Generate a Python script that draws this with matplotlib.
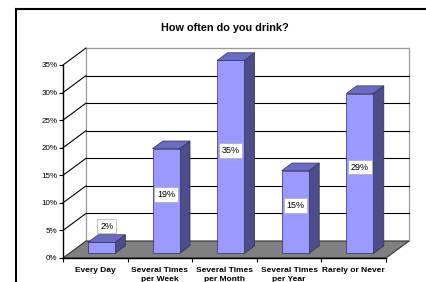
import matplotlib.pyplot as plt
from matplotlib.patches import Polygon
from matplotlib.lines import Line2D
from matplotlib.ticker import FixedLocator, NullFormatter

plt.rcParams['font.family'] = ['Liberation Sans', 'DejaVu Sans']

# data
categories = ['Every Day', 'Several Times\nper Week', 'Several Times\nper Month',
              'Several Times\nper Year', 'Rarely or Never']
values = [2, 19, 35, 15, 29]
yticks = [0, 5, 10, 15, 20, 25, 30, 35]

# 3d look: depth offset in data units
DX, DY = 0.356, 3.08
f0, f1 = 0.27, 0.72     # bar front / back depth fraction
w = 0.42
front_c = '#9999ff'
side_c = '#4d4d8c'
top_c = '#6b6bc4'
edge_c = '#2e2e5c'

fig = plt.figure(figsize=(4.26, 2.82), dpi=100)
ax = fig.add_axes([63 / 426, 24 / 282, 323 / 426, 193 / 282])
ax.set_xlim(0, 5)
ax.set_ylim(0, 35)
ax.patch.set_visible(False)
ax.spines['top'].set_visible(False)
ax.spines['right'].set_visible(False)
for s in ('left', 'bottom'):
    ax.spines[s].set_linewidth(1.0)
    ax.spines[s].set_zorder(6)

top = 35
# back wall
ax.add_patch(Polygon([(DX, DY), (5 + DX, DY), (5 + DX, top + DY), (DX, top + DY)],
                     closed=True, facecolor='white', edgecolor='#999999', lw=0.9,
                     clip_on=False, zorder=1))
for v in yticks[1:]:
    col = '#999999' if v == top else 'black'
    ax.plot([DX, 5 + DX], [v + DY, v + DY], color=col, lw=0.8, clip_on=False, zorder=2)
    ax.plot([0, DX], [v, v + DY], color='black', lw=0.8, clip_on=False, zorder=2)

# floor
ax.add_patch(Polygon([(0, 0), (5, 0), (5 + DX, DY), (DX, DY)], closed=True,
                     facecolor='#808080', edgecolor='#333333', lw=0.8,
                     clip_on=False, zorder=3))

# bars
s = f1 - f0
for i, v in enumerate(values):
    x0 = i + 0.5 - w / 2 + f0 * DX
    x1 = x0 + w
    y0 = f0 * DY
    y1 = v + f0 * DY
    ax.add_patch(Polygon([(x1, y0), (x1 + s * DX, y0 + s * DY), (x1 + s * DX, y1 + s * DY), (x1, y1)],
                         closed=True, facecolor=side_c, edgecolor=edge_c, lw=0.5,
                         clip_on=False, zorder=4))
    ax.add_patch(Polygon([(x0, y1), (x1, y1), (x1 + s * DX, y1 + s * DY), (x0 + s * DX, y1 + s * DY)],
                         closed=True, facecolor=top_c, edgecolor=edge_c, lw=0.5,
                         clip_on=False, zorder=4))
    ax.add_patch(Polygon([(x0, y0), (x1, y0), (x1, y1), (x0, y1)],
                         closed=True, facecolor=front_c, edgecolor=edge_c, lw=0.5,
                         clip_on=False, zorder=5))
    if v < 5:
        lx, ly = i + 0.5 + (f0 + f1) / 2 * DX, v + 3.8
    else:
        lx, ly = i + 0.5 + f0 * DX, v / 2 + 2
    ax.text(lx, ly, f'{v}%', ha='center', va='center', fontsize=6.5, zorder=7,
            bbox=dict(boxstyle='square,pad=0.3', facecolor='white', edgecolor='#aaaaaa', lw=0.5))

# axes ticks
ax.set_yticks(yticks)
ax.set_yticklabels([f'{v}%' for v in yticks], fontsize=5.8)
ax.tick_params(axis='y', length=3, width=0.8, pad=1, color='black')
ax.xaxis.set_major_locator(FixedLocator([0, 1, 2, 3, 4, 5]))
ax.xaxis.set_major_formatter(NullFormatter())
ax.xaxis.set_minor_locator(FixedLocator([i + 0.5 for i in range(5)]))
ax.set_xticklabels(categories, minor=True, fontsize=6, fontweight='bold', va='top')
ax.tick_params(axis='x', which='major', length=3, width=0.8, color='black')
ax.tick_params(axis='x', which='minor', length=0, pad=6.5)
for lab in ax.get_xticklabels(minor=True):
    lab.set_linespacing(1.35)

fig.text(225 / 426, 1 - 28 / 282, 'How often do you drink?', ha='center', va='center',
         fontsize=7.8, fontweight='bold')

# outer frame
yf = 1 - 9 / 282
xf = 16 / 426
fig.add_artist(Line2D([xf, 1.0], [yf, yf], color='black', lw=1.5))
fig.add_artist(Line2D([xf, xf], [yf, 0], color='black', lw=1.5))

fig.savefig('out.png', dpi=100)
